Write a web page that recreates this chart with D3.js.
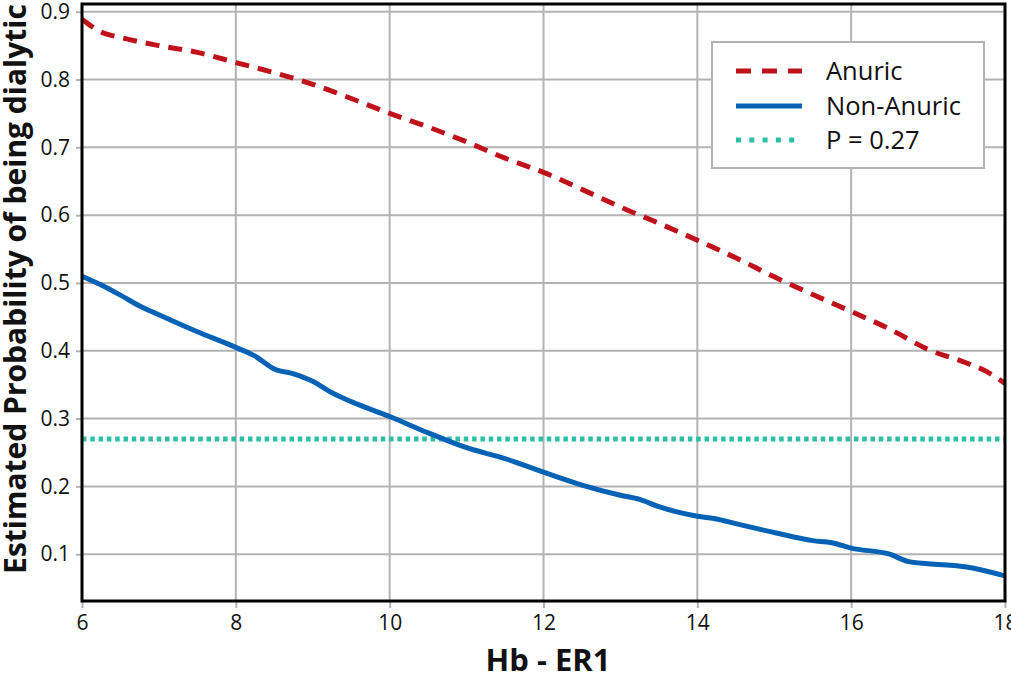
<!DOCTYPE html>
<html><head><meta charset="utf-8">
<script src="https://cdn.jsdelivr.net/npm/d3@7"></script>
<style>body{margin:0;background:#fff}svg{display:block}text{font-family:"Open Sans",sans-serif}</style>
</head><body>
<svg id="c" width="1011" height="673"></svg>
<script>
const anuricX = [6,6.25,6.5,7,7.5,8,8.5,9,9.5,10,10.5,11,11.5,12,12.5,13,13.5,14,14.5,15,15.5,16,16.5,17,17.5,17.75,18];
const anuricY = [0.889,0.870,0.862,0.850,0.840,0.825,0.810,0.793,0.772,0.750,0.730,0.708,0.684,0.663,0.638,0.612,0.588,0.563,0.537,0.509,0.483,0.458,0.432,0.402,0.382,0.370,0.352];
const nonAnuricX = [6,6.25,6.5,6.75,7,7.5,8,8.25,8.5,8.75,9,9.25,9.5,10,10.5,11,11.5,12,12.5,13,13.25,13.5,14,14.25,14.5,15,15.5,15.75,16,16.5,16.75,17,17.5,18];
const nonAnuricY = [0.510,0.497,0.482,0.466,0.453,0.428,0.405,0.392,0.373,0.366,0.355,0.338,0.325,0.303,0.279,0.257,0.241,0.221,0.202,0.187,0.181,0.170,0.156,0.152,0.145,0.132,0.120,0.117,0.109,0.100,0.089,0.086,0.081,0.068];
const threshold = 0.27;
const xTicks = [6,8,10,12,14,16,18];
const yTicks = [0.1,0.2,0.3,0.4,0.5,0.6,0.7,0.8,0.9];
const legendLabels = ["Anuric","Non-Anuric","P = 0.27"];
const xTitle = "Hb - ER1";
const yTitle = "Estimated Probability of being dialytic";

const svg = d3.select("#c");
const L = 82, R = 1005, T = 4, B = 601;
const x = d3.scaleLinear().domain([6,18]).range([L,R]);
const y = d3.scaleLinear().domain([0.031,0.9]).range([B,11.7]);

const grid = svg.append("g");
grid.selectAll("line.v").data(xTicks).join("line")
  .attr("x1",d=>x(d)).attr("x2",d=>x(d)).attr("y1",T).attr("y2",B)
  .attr("stroke","#b3b3b3").attr("stroke-width",2);
grid.selectAll("line.h").data(yTicks).join("line")
  .attr("x1",L).attr("x2",R).attr("y1",d=>y(d)).attr("y2",d=>y(d))
  .attr("stroke","#b3b3b3").attr("stroke-width",2);

const xAxis = svg.append("g").attr("transform",`translate(0,${B})`)
  .call(d3.axisBottom(x).tickValues(xTicks).tickFormat(d3.format("d")).tickSize(7).tickPadding(7));
const yAxis = svg.append("g").attr("transform",`translate(${L},0)`)
  .call(d3.axisLeft(y).tickValues(yTicks).tickFormat(d3.format(".1f")).tickSize(6).tickPadding(6));
[xAxis,yAxis].forEach(g=>{
  g.select(".domain").remove();
  g.selectAll(".tick line").attr("stroke","#b3b3b3").attr("stroke-width",2);
  g.selectAll(".tick text").attr("fill","#111").style("font-size","21px").style("font-family","'Open Sans',sans-serif");
});

const line = d3.line().x(d=>x(d[0])).y(d=>y(d[1])).curve(d3.curveMonotoneX);
const plot = svg.append("g");
plot.append("line").attr("x1",L).attr("x2",R).attr("y1",y(threshold)).attr("y2",y(threshold))
  .attr("stroke","#2dbfa6").attr("stroke-width",5).attr("stroke-dasharray","4.5,3.8");
plot.append("path").datum(anuricX.map((v,i)=>[v,anuricY[i]])).attr("d",line)
  .attr("fill","none").attr("stroke","#c0121b").attr("stroke-width",5).attr("stroke-dasharray","14,9");
plot.append("path").datum(nonAnuricX.map((v,i)=>[v,nonAnuricY[i]])).attr("d",line)
  .attr("fill","none").attr("stroke","#0562b4").attr("stroke-width",5);

svg.append("rect").attr("x",L).attr("y",T).attr("width",R-L).attr("height",B-T)
  .attr("fill","none").attr("stroke","#000").attr("stroke-width",3);

// legend
const lg = svg.append("g");
lg.append("rect").attr("x",712).attr("y",42).attr("width",272).attr("height",126)
  .attr("fill","#fff").attr("stroke","#b3b3b3").attr("stroke-width",2);
const styles = [
  {c:"#c0121b",dash:"15,11"},
  {c:"#0562b4",dash:null},
  {c:"#2dbfa6",dash:"5,8.3"}
];
const ly = [71,106,140];
legendLabels.forEach((t,i)=>{
  const ln = lg.append("line").attr("x1",736).attr("x2",802).attr("y1",ly[i]).attr("y2",ly[i])
    .attr("stroke",styles[i].c).attr("stroke-width",5);
  if(styles[i].dash) ln.attr("stroke-dasharray",styles[i].dash);
  lg.append("text").attr("x",826).attr("y",ly[i]+9).text(t)
    .style("font-size","25.5px").attr("fill","#111");
});

svg.append("text").attr("x",548).attr("y",671).attr("text-anchor","middle")
  .style("font-size","31px").style("font-weight","bold").attr("fill","#111").text(xTitle);
svg.append("text").attr("transform",`translate(26,289) rotate(-90)`).attr("text-anchor","middle")
  .style("font-size","30px").style("font-weight","bold").attr("fill","#111").text(yTitle);
</script>
</body></html>
